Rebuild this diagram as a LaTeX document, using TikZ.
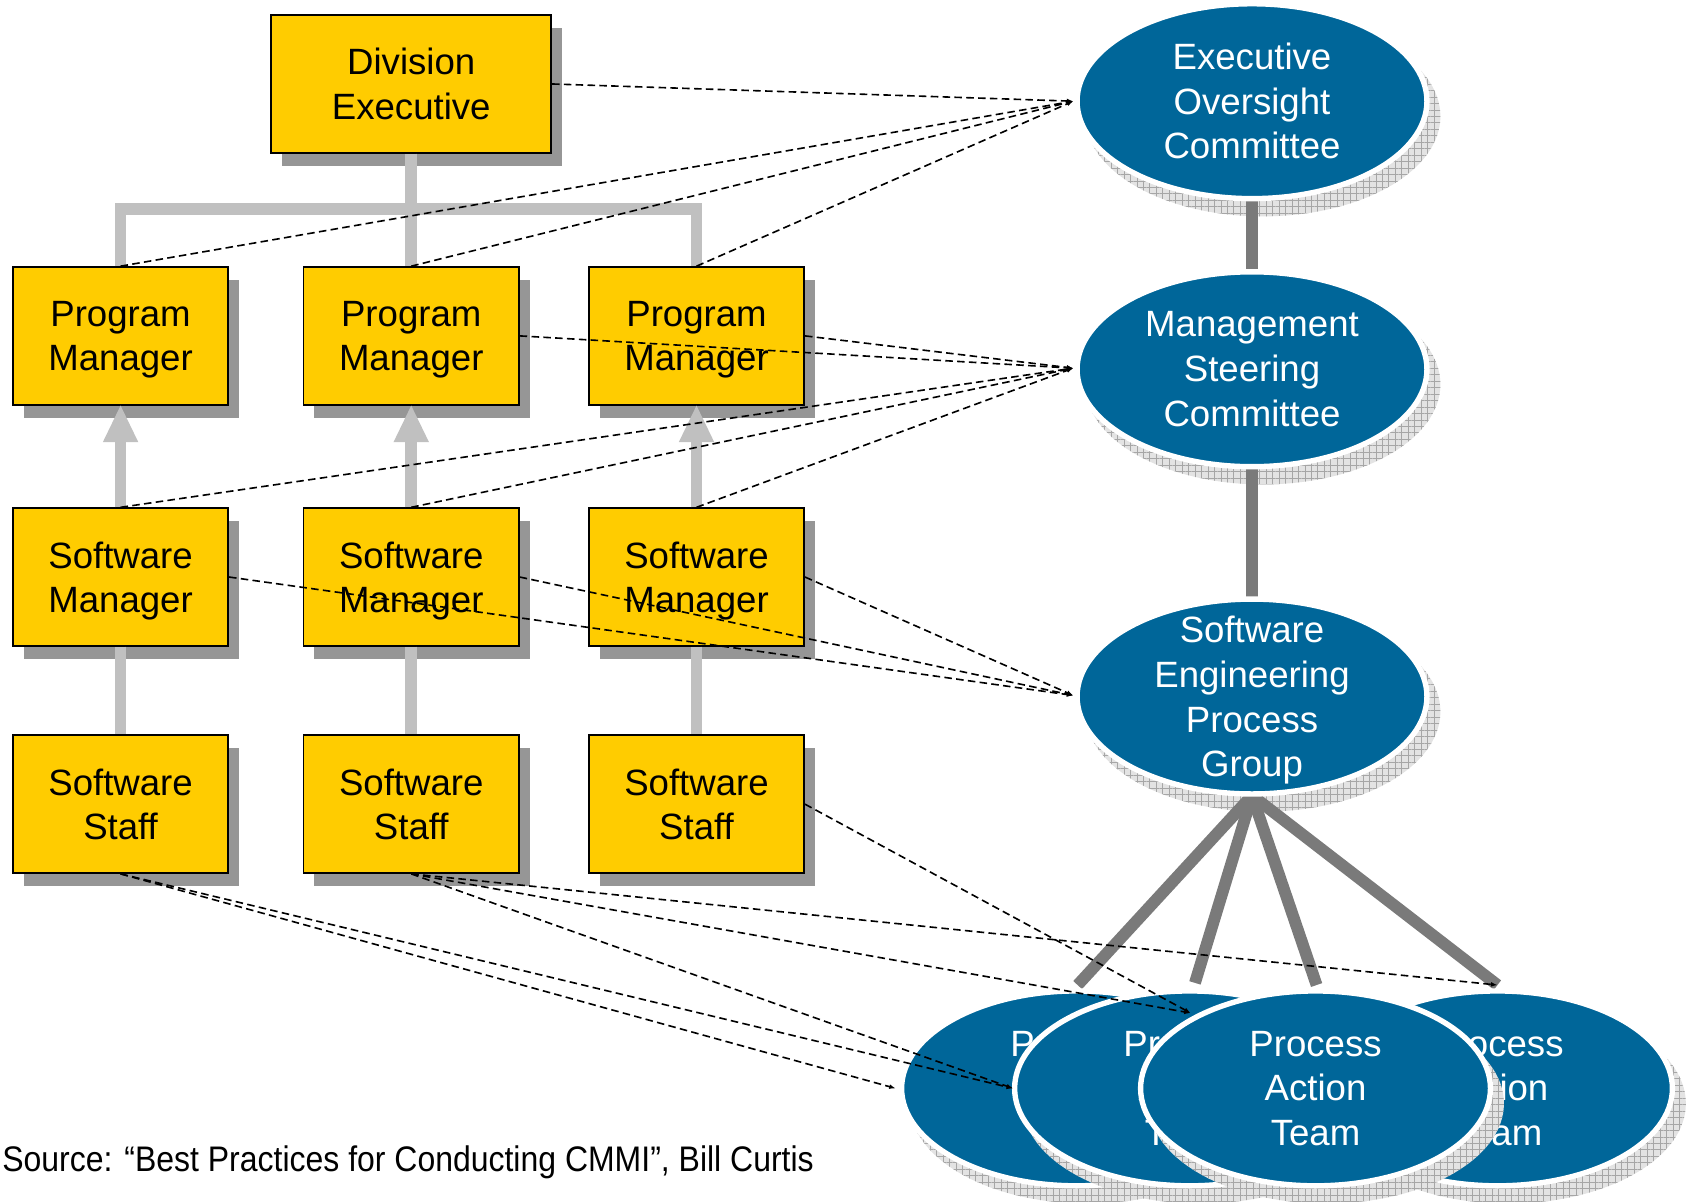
\documentclass[tikz,border=0pt]{standalone}
\usepackage{fontspec}
\setmainfont{Liberation Sans}
\usetikzlibrary{arrows.meta,patterns.meta,shadows}
\definecolor{orgyellow}{RGB}{255,204,0}
\definecolor{orgshadow}{RGB}{150,150,150}
\definecolor{linkgray}{RGB}{192,192,192}
\definecolor{teamblue}{RGB}{0,102,153}
\definecolor{stemgray}{RGB}{122,122,122}
% a last line whose descenders do not count when the text is centred
\newcommand\nodescent[1]{\raisebox{0pt}[\height][0pt]{#1}}
\begin{document}
\begin{tikzpicture}[x=1pt,y=-1pt,
  orgbox/.style={draw=black, line width=1.5pt, fill=orgyellow,
    minimum width=200pt, minimum height=128pt, inner sep=0pt, align=center,
    font=\fontsize{34}{41}\selectfont,
    drop shadow={shadow xshift=10pt, shadow yshift=-12pt, fill=orgshadow, opacity=1}},
  teamtext/.style={text=white, align=center, inner sep=0pt,
    font=\fontsize{34}{41.5}\selectfont},
  orglink/.style={draw=linkgray, line width=11pt},
  uplink/.style={orglink, -{Triangle[length=34pt,width=33pt,line width=0pt]}},
  stem/.style={draw=stemgray, line width=11pt},
  duty/.style={draw=black, line width=1.5pt, dash pattern=on 7pt off 4pt,
    -{Latex[length=6pt,width=4.5pt]}},
  teamshadow/.pic={
    \fill[gray!22] (10,14) ellipse [x radius=165, y radius=93];
    \fill[pattern={Hatch[distance=6pt,angle=0,line width=0.5pt]}, pattern color=gray!70]
      (10,14) ellipse [x radius=165, y radius=93];
  },
  teambody/.pic={
    \draw[white, line width=5pt, fill=teamblue] (0,0) ellipse [x radius=162.5, y radius=90.5];
  }
]
\useasboundingbox (0,0) rectangle (1568,1116);

% ---------- committees (right column) ----------
\coordinate (eoC) at (1163,94);
\coordinate (msC) at (1163,343);
\coordinate (sepgC) at (1163,647);
\coordinate (sepgB) at (1163,739);
\coordinate (f1) at (1001,915);
\coordinate (f2) at (1110,913);
\coordinate (f3) at (1223,915);
\coordinate (f4) at (1391,915);

\pic at (eoC) {teamshadow};
\pic at (msC) {teamshadow};
\pic at (sepgC) {teamshadow};

\draw[stem] (eoC) -- (msC);
\draw[stem] (msC) -- (sepgC);
\foreach \e in {f1,f2,f3,f4} \draw[stem] (sepgB) -- (\e);

\pic at (eoC) {teambody};
\pic at (msC) {teambody};
\pic at (sepgC) {teambody};
\node[teamtext] (EO) at (eoC) {Executive\\Oversight\\Committee};
\node[teamtext] (MS) at (msC) {Management\\Steering\\Committee};
\node[teamtext] (SEPG) at (sepgC) {Software\\Engineering\\Process\\\nodescent{Group}};

% process action teams, back to front
\pic at (1391,1011) {teamshadow};
\pic at (1391,1011) {teambody};
\node[teamtext] (PAT4) at (1391,1011) {Process\\Action\\Team};
\pic at (1000,1011) {teamshadow};
\pic at (1000,1011) {teambody};
\node[teamtext] (PAT1) at (1000,1011) {Process\\Action\\Team};
\pic at (1105,1011) {teamshadow};
\pic at (1105,1011) {teambody};
\node[teamtext] (PAT2) at (1105,1011) {Process\\Action\\Team};
\pic at (1222,1011) {teamshadow};
\pic at (1222,1011) {teambody};
\node[teamtext] (PAT3) at (1222,1011) {Process\\Action\\Team};

% ---------- organisation chart (left) ----------
\node[orgbox, minimum width=260pt] (DE) at (382,78) {Division\\Executive};
\node[orgbox] (PM1) at (112,312) {Program\\\nodescent{Manager}};
\node[orgbox] (PM2) at (382,312) {Program\\\nodescent{Manager}};
\node[orgbox] (PM3) at (647,312) {Program\\\nodescent{Manager}};
\node[orgbox] (SM1) at (112,536) {Software\\\nodescent{Manager}};
\node[orgbox] (SM2) at (382,536) {Software\\\nodescent{Manager}};
\node[orgbox] (SM3) at (647,536) {Software\\\nodescent{Manager}};
\node[orgbox] (ST1) at (112,747) {Software\\Staff};
\node[orgbox] (ST2) at (382,747) {Software\\Staff};
\node[orgbox] (ST3) at (647,747) {Software\\Staff};

\coordinate (bar) at (382,194.5);
\draw[orglink] (DE.south) -- (PM2.north);
\draw[orglink] (PM1.north) |- (bar) -| (PM3.north);
\foreach \i in {1,2,3} {
  \draw[uplink] (SM\i.north) -- (PM\i.south);
  \draw[orglink] (SM\i.south) -- (ST\i.north);
}

% ---------- participation links ----------
\coordinate (eoIn) at (997,94);
\coordinate (msIn) at (997,342);
\coordinate (sepgIn) at (997,646);
\coordinate (pat1In) at (832,1011);
\coordinate (pat2In) at (941,1011);
\coordinate (pat2Top) at (1106,941);

\draw[duty] (DE.east) -- (eoIn);
\foreach \i in {1,2,3} \draw[duty] (PM\i.north) -- (eoIn);
\draw[duty] (PM2.east) -- (msIn);
\draw[duty] (PM3.east) -- (msIn);
\foreach \i in {1,2,3} {
  \draw[duty] (SM\i.north) -- (msIn);
  \draw[duty] (SM\i.east) -- (sepgIn);
}
\draw[duty] (ST1.south) -- (pat1In);
\draw[duty] (ST1.south) -- (pat2In);
\draw[duty] (ST2.south) -- (pat2In);
\draw[duty] (ST2.south) -- (pat2Top);
\draw[duty] (ST2.south) -- (f4);
\draw[duty] (ST3.east) -- (pat2Top);

% ---------- source line ----------
\node[anchor=base west, inner sep=0pt, font=\fontsize{33}{40}\selectfont] (src) at (2,1088)
  {\scalebox{0.9}[1]{Source: “Best Practices for Conducting CMMI”, Bill Curtis}};
\end{tikzpicture}
\end{document}
